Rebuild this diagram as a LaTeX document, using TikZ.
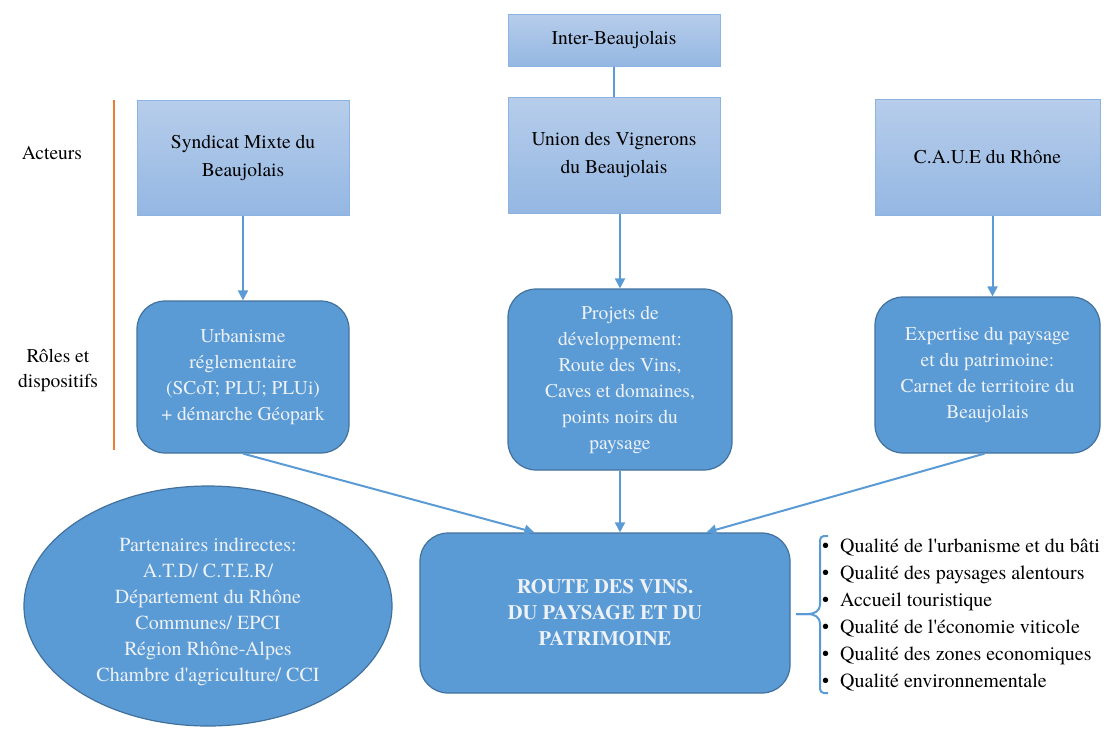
\documentclass[tikz,border=0pt]{standalone}
\usepackage{fontspec}
\setmainfont{texgyretermes}[Extension=.otf, UprightFont=*-regular, BoldFont=*-bold, ItalicFont=*-italic, BoldItalicFont=*-bolditalic, Ligatures=TeXOff]
\usetikzlibrary{calc,shapes.geometric,arrows.meta}
\definecolor{lighttop}{RGB}{183,205,235}
\definecolor{lightbot}{RGB}{148,183,226}
\definecolor{lightborder}{RGB}{141,179,226}
\definecolor{darkfill}{RGB}{91,155,213}
\definecolor{darkborder}{RGB}{65,113,156}
\definecolor{arrowblue}{RGB}{91,155,213}
\definecolor{orangeline}{RGB}{237,125,49}
\definecolor{softwhite}{RGB}{238,242,246}
\tikzset{
  lightbox/.style={rectangle, draw=lightborder, line width=1pt, top color=lighttop, bottom color=lightbot,
    align=center, text=black, font=\fontsize{19.5}{28}\selectfont, inner sep=4pt},
  darkbox/.style={rectangle, rounded corners=28pt, draw=darkborder, line width=1.2pt, fill=darkfill,
    align=center, text=softwhite, font=\fontsize{19.5}{26}\selectfont, inner sep=4pt},
  darkell/.style={ellipse, draw=darkborder, line width=1.2pt, fill=darkfill, inner sep=0pt},
  elltext/.style={align=center, text=softwhite, font=\fontsize{20}{26}\selectfont, inner sep=0pt},
  arr/.style={draw=arrowblue, line width=2pt, -{Triangle[width=10pt,length=10pt]}},
  plainline/.style={draw=arrowblue, line width=2pt},
  sidelabel/.style={align=center, text=black, font=\fontsize{19.5}{25}\selectfont},
  bracestyle/.style={draw=arrowblue, line width=2pt, rounded corners=4pt},
  listtext/.style={align=left, anchor=north west, text=black, font=\fontsize{20}{27}\selectfont, inner sep=0pt}
}
\begin{document}
\begin{tikzpicture}[x=1pt,y=-1pt]
\useasboundingbox (0,0) rectangle (1115,729);

% actors
\node[lightbox, minimum width=212pt, minimum height=52pt] (inter) at (614,40) {Inter-Beaujolais};
\node[lightbox, minimum width=212pt, minimum height=115pt] (syndicat) at (243,157.5) {Syndicat Mixte du\\Beaujolais};
\node[lightbox, minimum width=212pt, minimum height=116pt] (union) at (614,155) {Union des Vignerons\\du Beaujolais};
\node[lightbox, minimum width=225pt, minimum height=116pt] (caue) at (987.5,157) {C.A.U.E du Rhône};

% roles
\node[darkbox, minimum width=212pt, minimum height=152pt] (urba) at (243,377) {Urbanisme\\réglementaire\\(SCoT; PLU; PLUi)\\+ démarche Géopark};
\node[darkbox, minimum width=224pt, minimum height=181pt] (projets) at (620,379.5) {Projets de\\développement:\\Route des Vins,\\Caves et domaines,\\points noirs du\\paysage};
\node[darkbox, minimum width=225pt, minimum height=156pt] (expert) at (987.5,375) {Expertise du paysage\\et du patrimoine:\\Carnet de territoire du\\Beaujolais};

% bottom
\node[darkbox, minimum width=370pt, minimum height=160pt, font=\bfseries\fontsize{20.5}{26}\selectfont] (route) at (605,613) {ROUTE DES VINS.\\DU PAYSAGE ET DU\\PATRIMOINE};
\node[darkell, minimum width=368pt, minimum height=240pt] (partners) at (208,606) {};
\node[elltext] (partnerstext) at ($(partners.center)+(0,6)$) {Partenaires indirectes:\\A.T.D/ C.T.E.R/\\Département du Rhône\\Communes/ EPCI\\Région Rhône-Alpes\\Chambre d'agriculture/ CCI};

% side labels
\node[sidelabel] (acteurs) at (52,153) {Acteurs};
\node[sidelabel] (roles) at (58,370) {Rôles et\\dispositifs};
\coordinate (otop) at (114,100);
\coordinate (obot) at (114,450);
\draw[draw=orangeline, line width=2pt] (otop) -- (obot);

% connectors
\draw[plainline] (inter.south) -- (union.north);
\draw[arr] (syndicat.south) -- (urba.north);
\draw[arr] (union.south -| projets.north) -- (projets.north);
\draw[arr] ($(caue.south)+(5,0)$) -- ($(expert.north)+(5,0)$);

\coordinate (r1) at ($(route.north west)+(115,0)$);
\coordinate (r3) at ($(route.north west)+(287,0)$);
\draw[arr] (urba.south) -- (r1);
\draw[arr] (projets.south) -- (projets.south |- route.north);
\draw[arr] ($(expert.south)+(-3,0)$) -- (r3);

% brace
\coordinate (btip) at (796,614);
\draw[bracestyle] (828,536) -- (820,536) -- (820,609) -- (813,614) -- (btip);
\draw[bracestyle] (btip) -- (813,614) -- (820,619) -- (820,693) -- (828,693);

% list
\node[listtext] (list) at (822,539) {\textbullet\hspace{11pt}Qualité de l'urbanisme et du bâti\\
\textbullet\hspace{11pt}Qualité des paysages alentours\\
\textbullet\hspace{11pt}Accueil touristique\\
\textbullet\hspace{11pt}Qualité de l'économie viticole\\
\textbullet\hspace{11pt}Qualité des zones economiques\\
\textbullet\hspace{11pt}Qualité environnementale};
\end{tikzpicture}
\end{document}
